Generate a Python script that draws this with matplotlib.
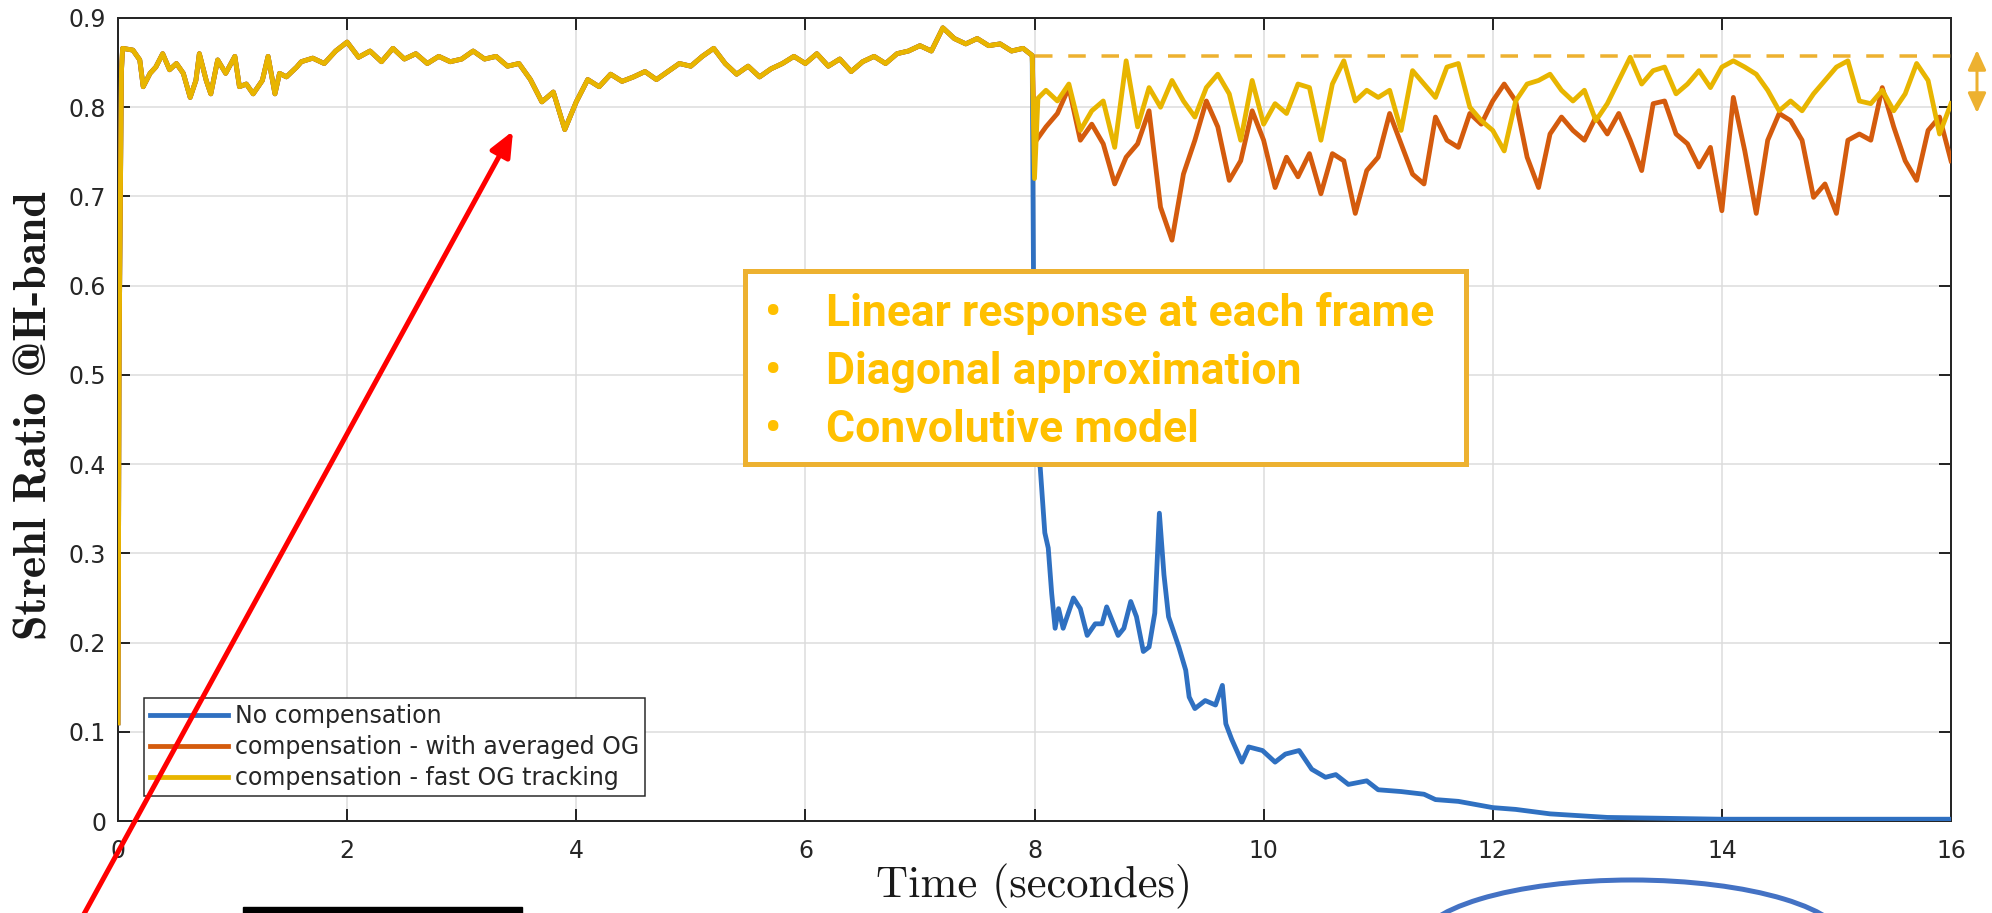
import numpy as np
import matplotlib
matplotlib.use('Agg')
import matplotlib.pyplot as plt
from matplotlib.patches import Rectangle, Ellipse, FancyArrowPatch
from matplotlib.ticker import FuncFormatter

# ---- data ----
# common part (all three runs are identical before t = 8 s)
shared_t = [0.0, 0.01, 0.03,
            0.04, 0.13, 0.19, 0.22, 0.28, 0.33, 0.39, 0.45, 0.51, 0.57, 0.63, 0.68, 0.71,
            0.77, 0.81, 0.87, 0.94, 1.02, 1.06, 1.12, 1.18, 1.26, 1.31, 1.37, 1.41, 1.47, 1.56] \
    + list(np.arange(16, 80) / 10) + [7.98]
shared_sr = [0.11, 0.53, 0.84,
             0.866, 0.864, 0.853, 0.823, 0.838, 0.845, 0.860, 0.842, 0.849, 0.838, 0.811, 0.830, 0.860,
             0.830, 0.815, 0.853, 0.838, 0.857, 0.823, 0.826, 0.815, 0.830, 0.857, 0.815, 0.838, 0.834, 0.845,
             0.851, 0.855, 0.849, 0.863,
             0.873, 0.856, 0.863, 0.851, 0.866, 0.854, 0.860, 0.849, 0.857, 0.851,
             0.854, 0.863, 0.854, 0.857, 0.846, 0.849, 0.831, 0.806, 0.817, 0.775,
             0.806, 0.831, 0.823, 0.837, 0.829, 0.834, 0.840, 0.831, 0.840, 0.849,
             0.846, 0.857, 0.866, 0.849, 0.837, 0.846, 0.834, 0.843, 0.849, 0.857,
             0.849, 0.860, 0.846, 0.854, 0.840, 0.851, 0.857, 0.849, 0.860, 0.863,
             0.869, 0.863, 0.889, 0.877, 0.871, 0.877, 0.869, 0.871, 0.863, 0.866,
             0.858]

# fast OG tracking, after the switch at t = 8 s
fast_t = [8.0, 8.03] + list(np.arange(81, 161) / 10)
fast_sr = [0.72, 0.81,
           0.819, 0.807, 0.826, 0.774, 0.796, 0.807, 0.755, 0.852, 0.778,
           0.822, 0.800, 0.830, 0.807, 0.789, 0.822, 0.837, 0.815, 0.763, 0.830,
           0.781, 0.804, 0.793, 0.826, 0.822, 0.763, 0.826, 0.852, 0.807, 0.819,
           0.811, 0.819, 0.774, 0.841, 0.826, 0.811, 0.845, 0.849, 0.800, 0.785,
           0.774, 0.751, 0.807, 0.826, 0.830, 0.837, 0.819, 0.807, 0.819, 0.785,
           0.804, 0.830, 0.856, 0.826, 0.841, 0.845, 0.815, 0.826, 0.841, 0.822,
           0.845, 0.852, 0.845, 0.837, 0.819, 0.796, 0.807, 0.796, 0.815, 0.830,
           0.845, 0.852, 0.807, 0.804, 0.819, 0.796, 0.815, 0.849, 0.830, 0.770,
           0.804]

# averaged OG
avg_t = list(np.arange(80, 161) / 10)
avg_sr = [0.760, 0.778, 0.793, 0.822, 0.763, 0.781, 0.759, 0.714, 0.744, 0.759,
          0.796, 0.688, 0.651, 0.725, 0.763, 0.807, 0.778, 0.718, 0.740, 0.796,
          0.763, 0.710, 0.744, 0.722, 0.748, 0.703, 0.748, 0.740, 0.681, 0.729,
          0.744, 0.793, 0.759, 0.725, 0.714, 0.789, 0.763, 0.755, 0.793, 0.781,
          0.807, 0.826, 0.807, 0.744, 0.710, 0.770, 0.789, 0.774, 0.763, 0.789,
          0.770, 0.793, 0.763, 0.729, 0.804, 0.807, 0.770, 0.759, 0.733, 0.755,
          0.684, 0.811, 0.751, 0.681, 0.763, 0.793, 0.785, 0.763, 0.699, 0.714,
          0.681, 0.763, 0.770, 0.763, 0.822, 0.778, 0.740, 0.718, 0.774, 0.789,
          0.740]

# no compensation
none_t = [8.0, 8.05, 8.09, 8.12, 8.15, 8.18, 8.21, 8.25, 8.34, 8.40, 8.46, 8.53, 8.59, 8.63,
          8.73, 8.78, 8.84, 8.89, 8.95, 9.00, 9.05, 9.09, 9.13, 9.17, 9.26, 9.32, 9.35, 9.40,
          9.49, 9.58, 9.64, 9.67, 9.72, 9.81, 9.87, 9.99, 10.10, 10.19, 10.31, 10.42, 10.54,
          10.63, 10.74, 10.9, 11.0, 11.2, 11.4, 11.5, 11.7, 12.0, 12.2, 12.5, 13.0, 13.5, 14.0, 16.0]
none_sr = [0.42, 0.396, 0.323, 0.306, 0.255, 0.216, 0.238, 0.216, 0.250, 0.238, 0.208, 0.221,
           0.221, 0.240, 0.208, 0.216, 0.246, 0.229, 0.190, 0.195, 0.233, 0.345, 0.276, 0.229,
           0.195, 0.169, 0.139, 0.126, 0.135, 0.130, 0.152, 0.109, 0.092, 0.066, 0.083, 0.079,
           0.066, 0.075, 0.079, 0.058, 0.049, 0.052, 0.041, 0.045, 0.035, 0.033, 0.030, 0.024,
           0.022, 0.015, 0.013, 0.008, 0.004, 0.003, 0.002, 0.002]

target_level = 0.857
target_span = [8, 16]

labels = ['No compensation', 'compensation - with averaged OG', 'compensation - fast OG tracking']
box_items = ['Linear response at each frame', 'Diagonal approximation', 'Convolutive model']

c_blue, c_orange, c_yellow = '#2f70c1', '#d45b0d', '#e8b500'
c_note = '#EDB130'
axcol = '#262626'

W, H = 1992, 913


def px(p):
    return p * 72 / 100


fig = plt.figure(figsize=(W / 100, H / 100), dpi=100)
ax = fig.add_axes([118 / W, 1 - 821 / H, 1833 / W, 803 / H])

lw = px(4.8)
ax.plot(shared_t + none_t, shared_sr + none_sr, color=c_blue, lw=lw,
        label=labels[0], zorder=3)
ax.plot(shared_t + avg_t, shared_sr + avg_sr, color=c_orange, lw=lw,
        label=labels[1], zorder=3)
ax.plot(shared_t + fast_t, shared_sr + fast_sr, color=c_yellow, lw=lw,
        label=labels[2], zorder=3)
ax.plot(target_span, [target_level] * 2, color=c_note, lw=px(3.5),
        ls=(0, (5, 4.5)), zorder=4)

ax.set_xlim(0, 16)
ax.set_ylim(0, 0.9)
ax.set_xticks(np.arange(0, 17, 2))
ax.set_yticks(np.arange(0, 10) / 10)
ax.yaxis.set_major_formatter(FuncFormatter(lambda v, p: '%g' % round(v, 2)))
ax.grid(True, color='#dcdcdc', lw=px(1.5))
ax.set_axisbelow(True)
for s in ax.spines.values():
    s.set_color(axcol)
    s.set_linewidth(px(2))
ax.tick_params(direction='in', length=px(12), width=px(2), color=axcol,
               top=True, right=True, labelsize=17, labelcolor=axcol)
ax.tick_params(axis='y', pad=px(12))
ax.tick_params(axis='x', pad=px(18))

ax.set_xlabel('Time (secondes)', fontfamily=['cmr10', 'DejaVu Serif'], fontsize=32, color='#1a1a1a')
ax.xaxis.set_label_coords(0.5, -(864 - 821) / 803)
ax.set_ylabel('Strehl Ratio @H-band', fontfamily=['cmb10', 'DejaVu Serif'], fontsize=33, color='#1a1a1a')
ax.yaxis.set_label_coords((56 - 118) / 1833, (821 - 416) / 803)

leg = ax.legend(loc='upper left', bbox_to_anchor=((144 - 118) / 1833, (821 - 698) / 803),
                borderaxespad=0, fontsize=17, handlelength=3.3, handletextpad=0.3,
                labelspacing=0.3, borderpad=0.25, fancybox=False, framealpha=1,
                edgecolor=axcol, labelcolor=axcol)
leg.get_frame().set_linewidth(px(1.5))

# ---- slide annotations, in figure pixels ----
ov = fig.add_axes([0, 0, 1, 1], zorder=5)
ov.set_xlim(0, W)
ov.set_ylim(H, 0)
ov.axis('off')

ov.add_patch(Rectangle((745, 271), 721, 193, facecolor='white', edgecolor=c_note, lw=px(5)))
for i, s in enumerate(box_items):
    y = 326 + 58 * i
    ov.text(773, y, '\u2022', ha='center', va='baseline', fontsize=32,
            fontfamily='Roboto', fontweight='bold', color='#FFC000')
    ov.text(826, y, s, ha='left', va='baseline', fontsize=32,
            fontfamily='Roboto', fontweight='bold', color='#FFC000')

ov.add_patch(FancyArrowPatch((1977, 50), (1977, 113),
                             arrowstyle='<|-|>,head_length=1.2,head_width=0.55',
                             mutation_scale=10, lw=px(3), color=c_note,
                             shrinkA=0, shrinkB=0))
ov.add_patch(FancyArrowPatch((78, 925), (513, 131),
                             arrowstyle='-|>,head_length=1.5,head_width=0.65',
                             mutation_scale=10, lw=px(5), color='#ff0000',
                             shrinkA=0, shrinkB=0))
ov.add_patch(Rectangle((243, 907), 279, 10, color='black'))
ov.add_patch(Ellipse((1632, 945), 430, 130, fill=False, ec='#4472C4', lw=px(5)))

fig.savefig('out.png', dpi=100)
